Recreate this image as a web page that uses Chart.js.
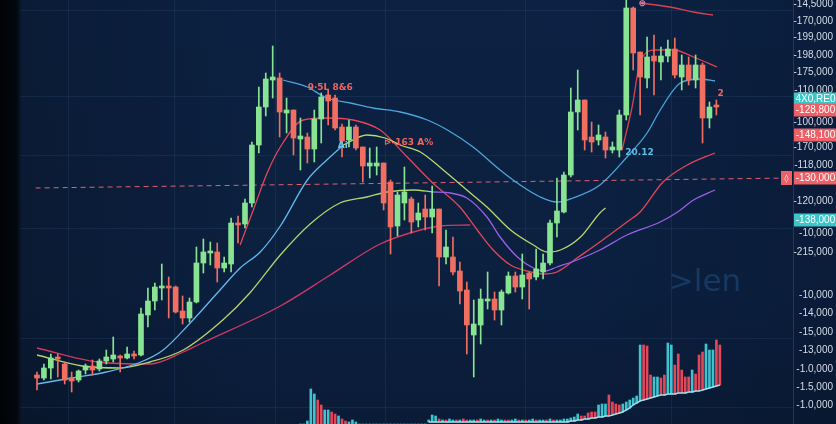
<!DOCTYPE html>
<html>
<head>
<meta charset="utf-8">
<script src="https://cdn.jsdelivr.net/npm/chart.js@4.4.1/dist/chart.umd.min.js"></script>
<style>
  html, body { margin:0; padding:0; background:#0b1f3d; }
  #wrap { width:836px; height:424px; }
</style>
</head>
<body>
<div id="wrap"><canvas id="c" width="836" height="424"></canvas></div>
<script>
// ---------- Daten ----------
// Kerzen (Index = Zeit), Werte in Chart-Einheiten
const candleOpen  = [49,46,56,67,60,46,44,54,58,55,63,65,68,66,70,69,109,123,136,137,137,113,106,122,161,171,172,156,160,201,200,221,279,317,344,346,311,314,285,287,275,305,329,326,297,284,297,277,258,258,261,242,198,221,225,204,215,207,215,167,167,153,134,89,99,123,125,114,131,148,137,151,147,152,161,201,212,249,312,324,287,284,287,274,274,309,416,372,346,368,362,368,375,347,359,344,359,306,318];
const candleHigh  = [52,60,70,70,62,52,54,60,64,65,74,87,69,77,73,116,136,141,160,147,138,128,126,177,185,182,181,167,206,208,225,282,337,351,378,351,326,314,306,291,314,331,334,329,300,304,299,277,276,277,261,244,232,257,227,221,229,238,215,194,187,162,142,124,135,152,132,134,152,152,170,152,175,170,204,246,252,336,354,324,302,299,292,282,314,424,417,372,387,389,377,384,386,369,367,369,361,322,324];
const candleLow   = [34,44,45,47,40,32,42,50,49,53,60,62,52,65,65,68,97,114,124,106,111,100,102,121,151,159,142,152,152,181,196,217,271,308,326,287,291,269,254,261,262,281,299,294,267,277,274,242,246,249,214,170,188,204,191,197,194,191,138,160,149,120,70,47,80,115,104,99,130,132,125,115,144,145,159,187,211,247,294,274,272,279,266,271,267,304,354,309,336,329,344,362,346,334,339,336,281,296,309];
const candleClose = [46,56,66,65,44,43,53,58,54,63,67,69,66,70,68,110,123,137,138,136,112,106,122,161,172,173,156,161,201,199,221,279,317,345,347,312,314,286,288,275,305,327,323,296,283,297,276,258,261,261,221,197,229,232,202,211,207,215,167,177,152,133,99,100,125,125,114,132,148,137,149,145,155,161,201,213,249,312,324,284,282,289,274,277,309,416,371,347,367,363,368,375,349,359,344,359,306,317,317];

// Gleitende Durchschnitte: [Index, Wert]
const maSky    = [[0,40],[5,46],[10,52],[15,62],[18.2,74],[22.1,101],[26.4,134],[29.3,156],[32.2,172],[35.1,198],[39,244],[41.8,264],[44.2,279]];
const maLime   = [[44.2,279],[47.6,289],[50.2,286],[52.4,279],[55.3,272],[58.6,254],[62,234],[64.9,217],[68.3,194],[71.6,179],[73.6,172],[75.5,174],[78.4,187],[81.2,211],[82,216]];
const maGreen  = [[0,69],[6.5,58],[12,56],[16.3,62],[21.1,74],[26.8,104],[30.7,131],[35.1,169],[39.4,200],[43.7,221],[47.6,227],[50.5,232],[54.3,234],[57.1,232]];
const maPurple = [[57.1,232],[59.6,231],[62,226],[64.9,207],[66.8,187],[69.3,167],[71.6,156],[73.3,153],[75,157],[77.9,164],[81.2,174],[85.1,189],[89.9,202],[92.4,212],[94.7,224],[97.8,234]];
const maCrimson= [[0,76],[8.7,62],[16.3,60],[21.1,72],[23.5,80],[35.1,118],[42.3,149],[49.5,180],[55.3,194],[58.2,198],[62.5,199]];
const maRed    = [[29.3,179],[31.2,214],[33.2,251],[35.1,277],[38.4,304],[41.8,306],[45.6,304],[49.5,294],[53.4,267],[57.1,241],[61,217],[63.5,194],[65.8,174],[68.3,159],[70.7,153],[73,150],[75,152],[77.9,166],[80.8,180],[85.1,202],[87,212],[90.3,242],[93.8,259],[97.8,271]];
const maBlue   = [[35.5,344],[39,337],[41.8,326],[45.2,321],[48.5,316],[52.4,312],[56.3,304],[59.2,294],[62.9,277],[66.8,254],[69.7,239],[72.6,227],[75,222],[77.3,226],[81.2,239],[85.1,267],[88,291],[89.9,314],[92.8,341],[95.7,345],[97.8,343]];
const bandTop  = [[87,421],[91.3,417],[94.7,412],[97.5,409]];
const bandUp   = [[84.4,274],[85.9,319],[87,362],[89.2,374],[91.8,374],[94.7,367],[98.1,357]];

// Preislinie (gestrichelt)
const priceLine = [[-0.2,236],[108.5,246]];

// Volumen, halbe Index-Schritte ab Index 38
const VOL_START = 38;
const volTop = [0,0,3,35,30,24,19,14,14,12,10,8,5,3,2,4,2,
  0,0,0,0,0,0,0,0,0,0,0,0,0,0,0,0,0,0,0,0,
  4,9,8,5,4,4,5,4,4,4,5,4,4,4,4,5,4,4,4,4,5,4,4,4,4,5,4,4,4,4,5,4,4,4,4,5,4,4,
  4,5,5,6,7,10,8,8,11,12,12,19,20,20,29,22,20,19,20,22,24,26,28,79,79,78,49,47,47,46,49,81,79,59,70,54,47,47,54,50,69,72,80,74,74,84,79];
const volBase = [0,0,0,0,0,0,0,0,0,0,0,0,0,0,0,0,0,0,0,0,0,0,0,0,0,0,0,0,0,0,0,0,0,0,0,0,0,
  2,2,2,2,2,2,2,2,2,2,2,2,2,2,2,2,2,2,2,2,2,2,2,2,2,2,2,2,2,2,2,2,2,2,2,2,2,2,
  2,2,2,3,3,4,4,5,5,6,6,7,7,8,8,9,10,11,12,14,16,19,21,23,24,25,26,27,28,29,29,30,30,30,31,31,31,32,32,33,33,34,35,36,37,38,39];
const volUp = [1,1,1,1,1,0,0,1,1,0,0,1,0,0,1,1,1,
  1,1,1,1,1,1,1,1,1,1,1,1,1,1,1,1,1,1,1,1,
  1,1,1,0,1,0,1,1,0,1,0,0,1,1,0,1,1,0,1,0,1,1,0,0,1,1,0,1,0,1,1,0,1,1,0,1,0,1,
  1,1,1,1,1,1,0,0,0,0,0,1,1,1,0,0,0,0,1,1,1,1,1,1,0,0,0,1,1,0,0,1,1,0,0,0,0,0,1,0,0,0,1,1,1,0,0];

// Achse rechts
const tickVals   = [420,403,387,369,352,334,302,277,259,223,191,172,129,111,92,74,55,37,19];
const tickLabels = ['-14,5000','-170,000','-199,000','-198,000','-175,000','-110,000','-100,000','-170,000','-118,000','-120,000','-10,000','-215,000','-10,000','-14,000','-15,000','-13,000','-1.0,000','-1.5,000','-1.0,000'];
const badges = [
  { val:325, text:'4X0,RE0', bg:'#3cc6c9' },
  { val:314, text:'-128,800', bg:'#ee6066' },
  { val:289, text:'-148,100', bg:'#ee6066' },
  { val:246, text:'-130,000', bg:'#ee6066' },
  { val:204, text:'-138,000', bg:'#3cc6c9' }
];
const notes = [
  { idx:42.3, val:336, text:'9·5L 8&6', color:'#f2645f' },
  { idx:44.1, val:278, text:'Ai',       color:'#6cc6f0' },
  { idx:53.6, val:281, text:'⊳-163 A%', color:'#f2645f' },
  { idx:86.9, val:271, text:'20.12',    color:'#5cbce8' },
  { idx:98.6, val:330, text:'2',        color:'#f2645f' },
  { idx:87.3, val:420, text:'⊛',        color:'#e88aa8' }
];
const gridX = [-0.1, 9.1, 30.7, 38, 62.5, 78.4, 104.6];
const gridY = [414, 327, 269, 196, 86, 17];

// ---------- Farben ----------
const GREEN = '#88e492', RED = '#f06f60';
const VOL_UP = '#3fc3cf', VOL_DN = '#e2475a';

const isUp = i => candleClose[i] >= candleOpen[i];
const candleCol = candleOpen.map((o,i) => isUp(i) ? GREEN : RED);
const pts = arr => arr.map(([x,y]) => ({x, y}));

function lineDs(arr, color, order, extra){
  return Object.assign({ type:'line', data:pts(arr), borderColor:color, borderWidth:1.3, pointRadius:0,
    tension:0.4, cubicInterpolationMode:'monotone', fill:false, order }, extra||{});
}

const volX = k => VOL_START + k*0.5;

// ---------- Plugins ----------
const bgPlugin = {
  id:'bg',
  beforeDraw(chart){
    const {ctx, width, height} = chart;
    ctx.save();
    const g = ctx.createLinearGradient(0,0,width,0);
    g.addColorStop(0,'#010306'); g.addColorStop(0.02,'#03080f'); g.addColorStop(0.026,'#0a1b35');
    g.addColorStop(0.3,'#0c2142'); g.addColorStop(0.7,'#0c2143'); g.addColorStop(1,'#0a1d3b');
    ctx.fillStyle = g; ctx.fillRect(0,0,width,height);
    const v = ctx.createLinearGradient(0,0,0,height);
    v.addColorStop(0,'rgba(0,0,0,0)'); v.addColorStop(0.7,'rgba(0,0,0,0.05)'); v.addColorStop(1,'rgba(0,0,0,0.18)');
    ctx.fillStyle = v; ctx.fillRect(0,0,width,height);
    ctx.restore();
  },
  beforeDatasetsDraw(chart){
    const {ctx, scales:{x, y}} = chart;
    ctx.save();
    ctx.fillStyle = '#173860';
    ctx.font = '31px "DejaVu Sans"';
    ctx.textBaseline = 'alphabetic';
    ctx.fillText('>len', x.getPixelForValue(91), y.getPixelForValue(133));
    ctx.restore();
  },
  afterDatasetsDraw(chart){
    const {ctx, chartArea, width, scales:{x, y}} = chart;
    ctx.save();
    ctx.textBaseline = 'middle';
    notes.forEach(n => {
      ctx.font = 'bold 9px "DejaVu Sans"';
      ctx.fillStyle = n.color; ctx.textAlign = 'center';
      ctx.fillText(n.text, x.getPixelForValue(n.idx), y.getPixelForValue(n.val));
    });
    // Markierung am Ende der Preislinie
    const py = y.getPixelForValue(badges[3].val);
    ctx.fillStyle = '#ee6066';
    ctx.fillRect(chartArea.right - 12, py - 7, 11, 14);
    ctx.fillStyle = '#ffffff'; ctx.font = 'bold 8px "DejaVu Sans"'; ctx.textAlign = 'center';
    ctx.fillText('◊', chartArea.right - 6.5, py + 0.5);
    badges.forEach(b => {
      const by = y.getPixelForValue(b.val);
      ctx.fillStyle = b.bg;
      ctx.fillRect(chartArea.right + 1, by - 6.5, width - chartArea.right - 1, 13);
      ctx.fillStyle = '#ffffff'; ctx.font = '10px "Liberation Sans"'; ctx.textAlign = 'center';
      ctx.fillText(b.text, (chartArea.right + width) / 2 + 1, by + 0.5);
    });
    ctx.restore();
  }
};

// ---------- Chart ----------
const gridColor = 'rgba(70,110,160,0.16)';
new Chart(document.getElementById('c'), {
  type:'bar',
  data:{
    datasets:[
      { label:'body', data:candleOpen.map((o,i)=>({x:i, y:[o, candleClose[i]]})), backgroundColor:candleCol,
        barThickness:5, minBarLength:2, grouped:false, borderWidth:0, order:1 },
      { label:'wick', data:candleLow.map((l,i)=>({x:i, y:[l, candleHigh[i]]})), backgroundColor:candleCol,
        barThickness:1, grouped:false, borderWidth:0, order:2 },
      lineDs(maBlue,   '#4aa6dc', 3),
      lineDs(maSky,    '#63b9ee', 3),
      lineDs(maLime,   '#b8d86d', 3),
      lineDs(maGreen,  '#b3d46c', 3),
      lineDs(maPurple, '#9a5fe6', 3),
      lineDs(maCrimson,'#d23863', 3),
      lineDs(maRed,    '#e4465a', 3),
      lineDs(bandTop,  '#d8424f', 3),
      lineDs(bandUp,   '#d8424f', 3),
      lineDs(priceLine,'#e0606e', 4, { borderDash:[5,4], borderWidth:1, tension:0 }),
      lineDs(volBase.slice(37).map((b,k)=>[volX(k+37), b]), '#9fe2ee', 5, { borderWidth:1.5 }),
      { label:'vol', data:volTop.map((t,k)=>({x:volX(k), y:[volBase[k], t]})),
        backgroundColor:volUp.map(u => u ? VOL_UP : VOL_DN), barThickness:2, grouped:false, borderWidth:0, order:6 }
    ]
  },
  options:{
    responsive:false, animation:false, devicePixelRatio:1, events:[],
    layout:{ padding:{ left:20, right:3, top:0, bottom:0 } },
    plugins:{ legend:{display:false}, tooltip:{enabled:false} },
    scales:{
      x:{ type:'linear', min:-2.45, max:109.05, offset:false,
          ticks:{display:false}, border:{display:false},
          grid:{ color:gridColor, drawTicks:false },
          afterBuildTicks: s => { s.ticks = gridX.map(v => ({value:v})); } },
      yGrid:{ type:'linear', position:'left', min:0, max:424,
          ticks:{display:false}, border:{display:false},
          grid:{ color:gridColor, drawTicks:false },
          afterBuildTicks: s => { s.ticks = gridY.map(v => ({value:v})); } },
      y:{ type:'linear', position:'right', min:0, max:424,
          grid:{display:false, drawTicks:false}, border:{display:true, color:'#203a5c'},
          ticks:{ autoSkip:false, crossAlign:'far', color:'#d6dce6', font:{ size:10, family:'"Liberation Sans"' },
                  callback:(v,i) => tickLabels[i] },
          afterBuildTicks: s => { s.ticks = tickVals.map(v => ({value:v})); },
          afterFit: s => { s.width = 40; s.paddingTop = 0; s.paddingBottom = 0; } }
    }
  },
  plugins:[bgPlugin]
});
</script>
</body>
</html>
